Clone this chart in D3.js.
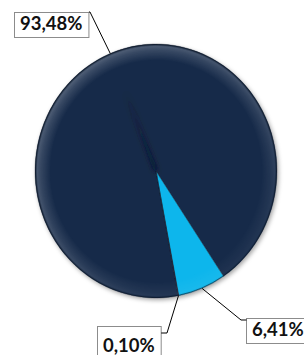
<!DOCTYPE html>
<html>
<head>
<meta charset="utf-8">
<script src="https://cdn.jsdelivr.net/npm/d3@7"></script>
<style>
  body { margin: 0; background: #fff; }
  svg { display: block; }
  .lbl { font-family: Lato, "Open Sans", sans-serif; font-weight: 700; font-size: 18.5px; fill: #111; }
</style>
</head>
<body>
<script>
// data
var sliceNames = ["a", "b", "c"];
var sliceValues = [93.48, 6.41, 0.10];
var sliceColors = ["#172b48", "#10b6ec", "#0c1c34"];

var chart = { width: 304, height: 355, cx: 156, cy: 171, rx: 121, ry: 127, start: 169.5 };

// label layout (box top-left, baseline offset, elbow of leader, which side the leader attaches)
var labelLayout = [
  { x: 14, y: 12, h: 25, ty: 18, elbow: [90, 12], side: "right", ly: 12 },
  { x: 246, y: 318, h: 25, ty: 18, elbow: [241, 320], side: "left", ly: 320 },
  { x: 97, y: 326, h: 32, ty: 26, elbow: [167, 333], side: "right", ly: 333 }
];

var fmt = function(v) { return d3.format(".2f")(v).replace(".", ",") + "%"; };

var svg = d3.select("body")
  .append("svg")
  .attr("width", chart.width)
  .attr("height", chart.height);

var defs = svg.append("defs");

var shadow = defs.append("filter").attr("id", "shadow")
  .attr("x", "-10%").attr("y", "-10%").attr("width", "125%").attr("height", "125%");
shadow.append("feDropShadow")
  .attr("dx", 1.5).attr("dy", 2).attr("stdDeviation", 2)
  .attr("flood-color", "#000").attr("flood-opacity", 0.35);

var blur = defs.append("filter").attr("id", "blur")
  .attr("x", "-50%").attr("y", "-50%").attr("width", "200%").attr("height", "200%");
blur.append("feGaussianBlur").attr("stdDeviation", 2.4);

// rim bevel: light band just inside the edge, dark outline
var rim = defs.append("radialGradient").attr("id", "rim")
  .attr("cx", 0.5).attr("cy", 0.5).attr("r", 0.5);
rim.append("stop").attr("offset", 0.87).attr("stop-color", "#fff").attr("stop-opacity", 0);
rim.append("stop").attr("offset", 0.95).attr("stop-color", "#fff").attr("stop-opacity", 0.17);
rim.append("stop").attr("offset", 0.98).attr("stop-color", "#fff").attr("stop-opacity", 0.26);
rim.append("stop").attr("offset", 1).attr("stop-color", "#000").attr("stop-opacity", 0.35);

// light comes from top-left
var lightGrad = defs.append("linearGradient").attr("id", "light")
  .attr("x1", 0.1).attr("y1", 0).attr("x2", 0.8).attr("y2", 1);
lightGrad.append("stop").attr("offset", 0).attr("stop-color", "#fff");
lightGrad.append("stop").attr("offset", 0.55).attr("stop-color", "#999");
lightGrad.append("stop").attr("offset", 1).attr("stop-color", "#111");

var mask = defs.append("mask").attr("id", "lightMask")
  .attr("maskUnits", "userSpaceOnUse")
  .attr("x", 0).attr("y", 0).attr("width", chart.width).attr("height", chart.height);
mask.append("ellipse")
  .attr("cx", chart.cx).attr("cy", chart.cy).attr("rx", chart.rx + 2).attr("ry", chart.ry + 2)
  .attr("fill", "url(#light)");

var seamGrad = defs.append("linearGradient").attr("id", "seam")
  .attr("gradientUnits", "userSpaceOnUse");

var color = d3.scaleOrdinal().domain(sliceNames).range(sliceColors);

var a0 = chart.start * Math.PI / 180;
var pie = d3.pie()
  .sort(null)
  .value(function(d) { return d.value; })
  .startAngle(a0)
  .endAngle(a0 + 2 * Math.PI);

var data = sliceNames.map(function(n, i) { return { name: n, value: sliceValues[i] }; });
var arcs = pie(data);

var arc = d3.arc().innerRadius(0).outerRadius(chart.rx);
var sy = chart.ry / chart.rx;

var pieG = svg.append("g").attr("filter", "url(#shadow)");
var g = pieG.append("g")
  .attr("transform", "translate(" + chart.cx + "," + chart.cy + ") scale(1," + sy + ")");

g.selectAll("path.slice")
  .data(arcs)
  .enter()
  .append("path")
  .attr("class", "slice")
  .attr("d", arc)
  .attr("fill", function(d) { return color(d.data.name); });

// soft ridge along the middle of the big slice
var big = arcs[0];
var mid = (big.startAngle + big.endAngle) / 2;
var sx2 = Math.sin(mid) * chart.rx * 0.68, sy2 = -Math.cos(mid) * chart.rx * 0.68;
seamGrad.attr("x1", 0).attr("y1", 0).attr("x2", sx2).attr("y2", sy2);
seamGrad.append("stop").attr("offset", 0).attr("stop-color", "#07122a").attr("stop-opacity", 0.8);
seamGrad.append("stop").attr("offset", 1).attr("stop-color", "#07122a").attr("stop-opacity", 0);
g.append("line")
  .attr("x1", 0).attr("y1", 0).attr("x2", sx2).attr("y2", sy2)
  .attr("stroke", "url(#seam)")
  .attr("stroke-width", 4)
  .attr("filter", "url(#blur)");

// thin bevel lines along slice edges
g.selectAll("path.edge")
  .data(arcs)
  .enter()
  .append("path")
  .attr("class", "edge")
  .attr("d", arc)
  .attr("fill", "none")
  .attr("stroke", "#0a1628")
  .attr("stroke-opacity", 0.35)
  .attr("stroke-width", 0.8)
  .attr("vector-effect", "non-scaling-stroke");

// rim highlight
svg.append("ellipse")
  .attr("cx", chart.cx).attr("cy", chart.cy).attr("rx", chart.rx).attr("ry", chart.ry)
  .attr("fill", "url(#rim)")
  .attr("mask", "url(#lightMask)");
svg.append("ellipse")
  .attr("cx", chart.cx).attr("cy", chart.cy).attr("rx", chart.rx - 0.5).attr("ry", chart.ry - 0.5)
  .attr("fill", "none")
  .attr("stroke", "#0a1526")
  .attr("stroke-opacity", 0.5)
  .attr("stroke-width", 1);

// labels
var labels = svg.selectAll("g.label")
  .data(arcs)
  .enter()
  .append("g")
  .attr("class", "label");

labels.each(function(d, i) {
  var L = labelLayout[i];
  var sel = d3.select(this);
  var t = sel.append("text")
    .attr("class", "lbl")
    .attr("x", L.x + 6)
    .attr("y", L.y + L.ty)
    .text(fmt(d.data.value));
  var w = t.node().getComputedTextLength() + 12;
  sel.insert("rect", "text")
    .attr("x", L.x + 0.5).attr("y", L.y + 0.5)
    .attr("width", w).attr("height", L.h)
    .attr("fill", "#fff")
    .attr("stroke", "#8c8c8c")
    .attr("stroke-width", 1);

  var ma = (d.startAngle + d.endAngle) / 2;
  var ax = chart.cx + Math.sin(ma) * chart.rx;
  var ay = chart.cy - Math.cos(ma) * chart.ry;
  var endX = L.side === "right" ? L.x + w + 0.5 : L.x + 0.5;
  svg.append("path")
    .attr("d", d3.line()([[ax, ay], L.elbow, [endX, L.ly]]))
    .attr("fill", "none")
    .attr("stroke", "#000")
    .attr("stroke-width", 1);
});
</script>
</body>
</html>
